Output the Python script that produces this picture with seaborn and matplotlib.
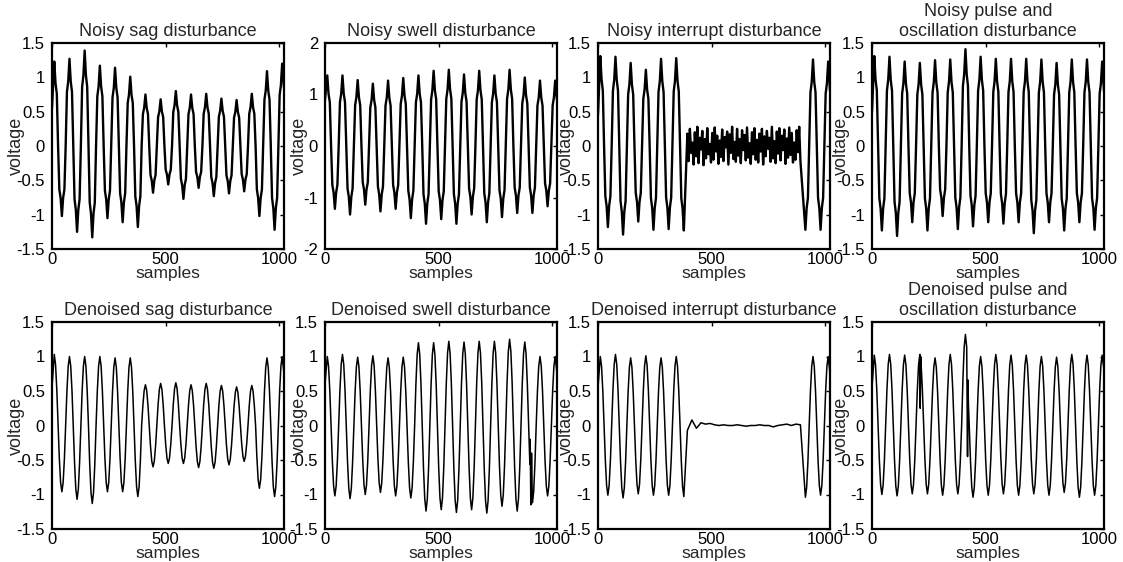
import numpy as np
import pandas as pd
import seaborn as sns
import matplotlib
matplotlib.use("Agg")
import matplotlib.pyplot as plt
from matplotlib.ticker import FuncFormatter

# sample timing of the 50 Hz waveforms
n_samples = 1020
first_peak = 10
period = 66.8

# extremes, in order: peak, trough, peak, ... (None = interrupted)
noisy_sag = [1.23, -1.02, 1.27, -1.25, 1.39, -1.33, 1.17, -1.05, 1.14, -1.11, 1.01, -1.18,
             0.75, -0.68, 0.68, -0.56, 0.80, -0.77, 0.75, -0.61, 0.76, -0.73, 0.69, -0.69,
             0.67, -0.66, 0.76, -1.02, 1.09, -1.22, 1.20]
noisy_swell = [1.37, -1.22, 1.37, -1.33, 1.28, -1.14, 1.21, -1.27, 1.27, -1.22, 1.32, -1.40,
               1.37, -1.51, 1.46, -1.42, 1.48, -1.51, 1.39, -1.33, 1.46, -1.48, 1.37, -1.38,
               1.48, -1.30, 1.33, -1.30, 1.27, -1.17, 1.27]
noisy_interrupt = [1.31, -1.18, 1.30, -1.29, 1.21, -1.10, 1.11, -1.22, 1.27, -1.21, 1.28, -1.23,
                   None, None, None, None, None, None, None, None, None, None, None, None,
                   None, None, None, -1.22, 1.26, -1.22, 1.23]
noisy_pulse = [1.31, -1.23, 1.30, -1.31, 1.23, -1.11, 1.21, -1.23, 1.25, -1.02, 1.26, -1.21,
               1.41, -1.17, 1.30, -1.11, 1.27, -1.13, 1.27, -1.11, 1.27, -1.27, 1.26, -1.11,
               1.21, -1.23, 1.26, -1.11, 1.26, -1.22, 1.23]

denoised_sag = [1.03, -0.96, 1.00, -1.07, 1.00, -1.13, 1.00, -0.96, 0.98, -0.96, 0.98, -1.03,
                0.59, -0.60, 0.61, -0.55, 0.62, -0.55, 0.59, -0.61, 0.61, -0.62, 0.58, -0.57,
                0.56, -0.52, 0.58, -0.91, 0.98, -1.03, 1.00]
denoised_swell = [1.00, -1.02, 1.03, -1.06, 0.99, -1.00, 1.01, -0.97, 0.98, -1.02, 0.99, -1.05,
                  1.20, -1.24, 1.20, -1.22, 1.22, -1.26, 1.21, -1.22, 1.22, -1.27, 1.22, -1.17,
                  1.25, -1.24, 1.21, -1.12, 1.00, -1.02, 1.00]
denoised_interrupt = [1.00, -1.01, 1.03, -1.05, 0.98, -0.99, 1.01, -1.01, 0.98, -1.01, 1.00, -1.03,
                      None, None, None, None, None, None, None, None, None, None, None, None,
                      None, None, None, -1.04, 1.00, -1.01, 1.00]
denoised_pulse = [1.02, -1.00, 1.03, -1.02, 1.02, -0.99, 1.03, -0.99, 0.98, -1.01, 1.03, -0.99,
                  1.32, -1.04, 1.00, -1.01, 1.03, -0.99, 1.02, -1.01, 1.02, -0.99, 1.00, -1.01,
                  0.99, -0.97, 1.03, -1.04, 1.02, -1.01, 1.02]

# level on each flank (share of the extreme) at 1/3 and 2/3 of the way
noisy_flank = [0.62, 0.74]
denoised_flank = [0.5, 0.86]

# values at the first and last sample of each trace
start_values = [0.55, 0.9, 0.45, 0.5, 0.55, 0.6, 0.55, 0.55]
end_values = [0.85, 0.9, 0.8, 0.8, 0.75, 0.75, 0.75, 0.8]

# noise left during the interruption (samples 393..890)
interrupt_noise = [0.18, -0.22, 0.25, -0.1, 0.05, -0.27, 0.2, -0.15, 0.28, -0.25, 0.12, -0.05,
                   0.22, -0.28, 0.1, -0.18, 0.26, -0.12, 0.03, -0.24, 0.19, -0.2, 0.27, -0.08,
                   0.15, -0.26, 0.08, -0.16, 0.24, -0.22, 0.13, -0.02, 0.21, -0.27, 0.17, -0.1,
                   0.28, -0.19, 0.06, -0.23, 0.25, -0.14, 0.1, -0.25, 0.23, -0.06, 0.16, -0.21,
                   0.27, -0.17, 0.04, -0.26, 0.2, -0.12, 0.26, -0.2, 0.09, -0.24, 0.18, -0.08,
                   0.25, -0.27, 0.14, -0.15, 0.22, -0.04, 0.12, -0.23, 0.28, -0.18, 0.07, -0.25,
                   0.21, -0.11, 0.26, -0.21, 0.15, -0.06, 0.24, -0.26, 0.11, -0.17, 0.27, -0.13,
                   0.19, -0.24, 0.05, -0.2, 0.23, -0.09, 0.28, -0.22]
interrupt_residual = [-0.07, 0.08, -0.04, 0.04, 0.02, 0.03, 0.01, 0.0, 0.01, 0.0, 0.0, 0.01,
                      0.0, -0.01, 0.0, 0.0, 0.01, 0.0, 0.0, -0.02, 0.0, 0.01, 0.02, 0.0, 0.02, 0.01]
interrupt_span = (393, 890)

# glitches left in two of the denoised traces
swell_glitch_x = [902, 905, 908]
swell_glitch_y = [-0.2, -1.15, -0.4]
pulse_glitch_x = [212, 214, 420, 424]
pulse_glitch_y = [0.25, 1.0, -0.45, 0.3]

titles = ['Noisy sag disturbance', 'Noisy swell disturbance', 'Noisy interrupt disturbance',
          'Noisy pulse and\noscillation disturbance',
          'Denoised sag disturbance', 'Denoised swell disturbance',
          'Denoised interrupt disturbance', 'Denoised pulse and\noscillation disturbance']


def build_wave(extremes, flank, start, end, extra_x=(), extra_y=()):
    q = period / 4
    xs, ys = [0], [start]
    for j, v in enumerate(extremes):
        if v is None:
            continue
        xe = first_peak + j * period / 2
        if j > 0 and extremes[j - 1] is not None:
            xs += [xe - q * 2 / 3, xe - q / 3]
            ys += [v * flank[0], v * flank[1]]
        xs.append(xe)
        ys.append(v)
        if j + 1 < len(extremes) and extremes[j + 1] is not None:
            xs += [xe + q / 3, xe + q * 2 / 3, xe + q]
            ys += [v * flank[1], v * flank[0], 0.0]
    xs.append(n_samples)
    ys.append(end)
    xs += list(extra_x)
    ys += list(extra_y)
    return pd.DataFrame({'samples': xs, 'voltage': ys}).sort_values('samples')


def gap(values):
    return np.linspace(interrupt_span[0], interrupt_span[1], len(values)), values


nx, ny = gap(interrupt_noise)
rx, ry = gap(interrupt_residual)
signals = [
    build_wave(noisy_sag, noisy_flank, start_values[0], end_values[0]),
    build_wave(noisy_swell, noisy_flank, start_values[1], end_values[1]),
    build_wave(noisy_interrupt, noisy_flank, start_values[2], end_values[2], nx, ny),
    build_wave(noisy_pulse, noisy_flank, start_values[3], end_values[3]),
    build_wave(denoised_sag, denoised_flank, start_values[4], end_values[4]),
    build_wave(denoised_swell, denoised_flank, start_values[5], end_values[5],
               swell_glitch_x, swell_glitch_y),
    build_wave(denoised_interrupt, denoised_flank, start_values[6], end_values[6], rx, ry),
    build_wave(denoised_pulse, denoised_flank, start_values[7], end_values[7],
               pulse_glitch_x, pulse_glitch_y),
]

sns.set_style('white')
plt.rcParams['font.family'] = ['Liberation Sans', 'DejaVu Sans']
plt.rcParams['axes.unicode_minus'] = False

fig = plt.figure(figsize=(11.23, 5.62), dpi=100)
lefts = [52, 325, 598, 872]
label_x = [-0.116, -0.075, -0.1, -0.095]
fmt = FuncFormatter(lambda v, p: '%g' % v)

for i, df in enumerate(signals):
    row, col = divmod(i, 4)
    if row == 0:
        rect = [lefts[col] / 1123, 1 - 249 / 562, 232 / 1123, 206 / 562]
    else:
        rect = [lefts[col] / 1123, 1 - 529 / 562, 232 / 1123, 207 / 562]
    ax = fig.add_axes(rect)
    sns.lineplot(data=df, x='samples', y='voltage', ax=ax, color='black',
                 linewidth=1.7 if row == 0 else 1.1, sort=False, errorbar=None)
    ax.set_xlim(0, n_samples)
    if i == 1:
        ax.set_ylim(-2, 2)
        ax.set_yticks([-2, -1, 0, 1, 2])
    else:
        ax.set_ylim(-1.5, 1.5)
        ax.set_yticks([-1.5, -1, -0.5, 0, 0.5, 1, 1.5])
    ax.set_xticks([0, 500, 1000])
    ax.xaxis.set_major_formatter(fmt)
    ax.yaxis.set_major_formatter(fmt)
    ax.tick_params(direction='in', length=3, width=1, top=True, right=True,
                   labelsize=12, colors='black')
    ax.tick_params(axis='x', pad=2)
    ax.tick_params(axis='y', pad=5)
    for s in ax.spines.values():
        s.set_linewidth(1.6)
        s.set_color('black')
    ax.set_title(titles[i], fontsize=13, pad=5)
    ax.set_xlabel('samples', fontsize=12.5, labelpad=-0.5)
    ax.set_ylabel('voltage', fontsize=13)
    ax.yaxis.set_label_coords(label_x[col], 0.5)

fig.savefig('out.png', dpi=100)
